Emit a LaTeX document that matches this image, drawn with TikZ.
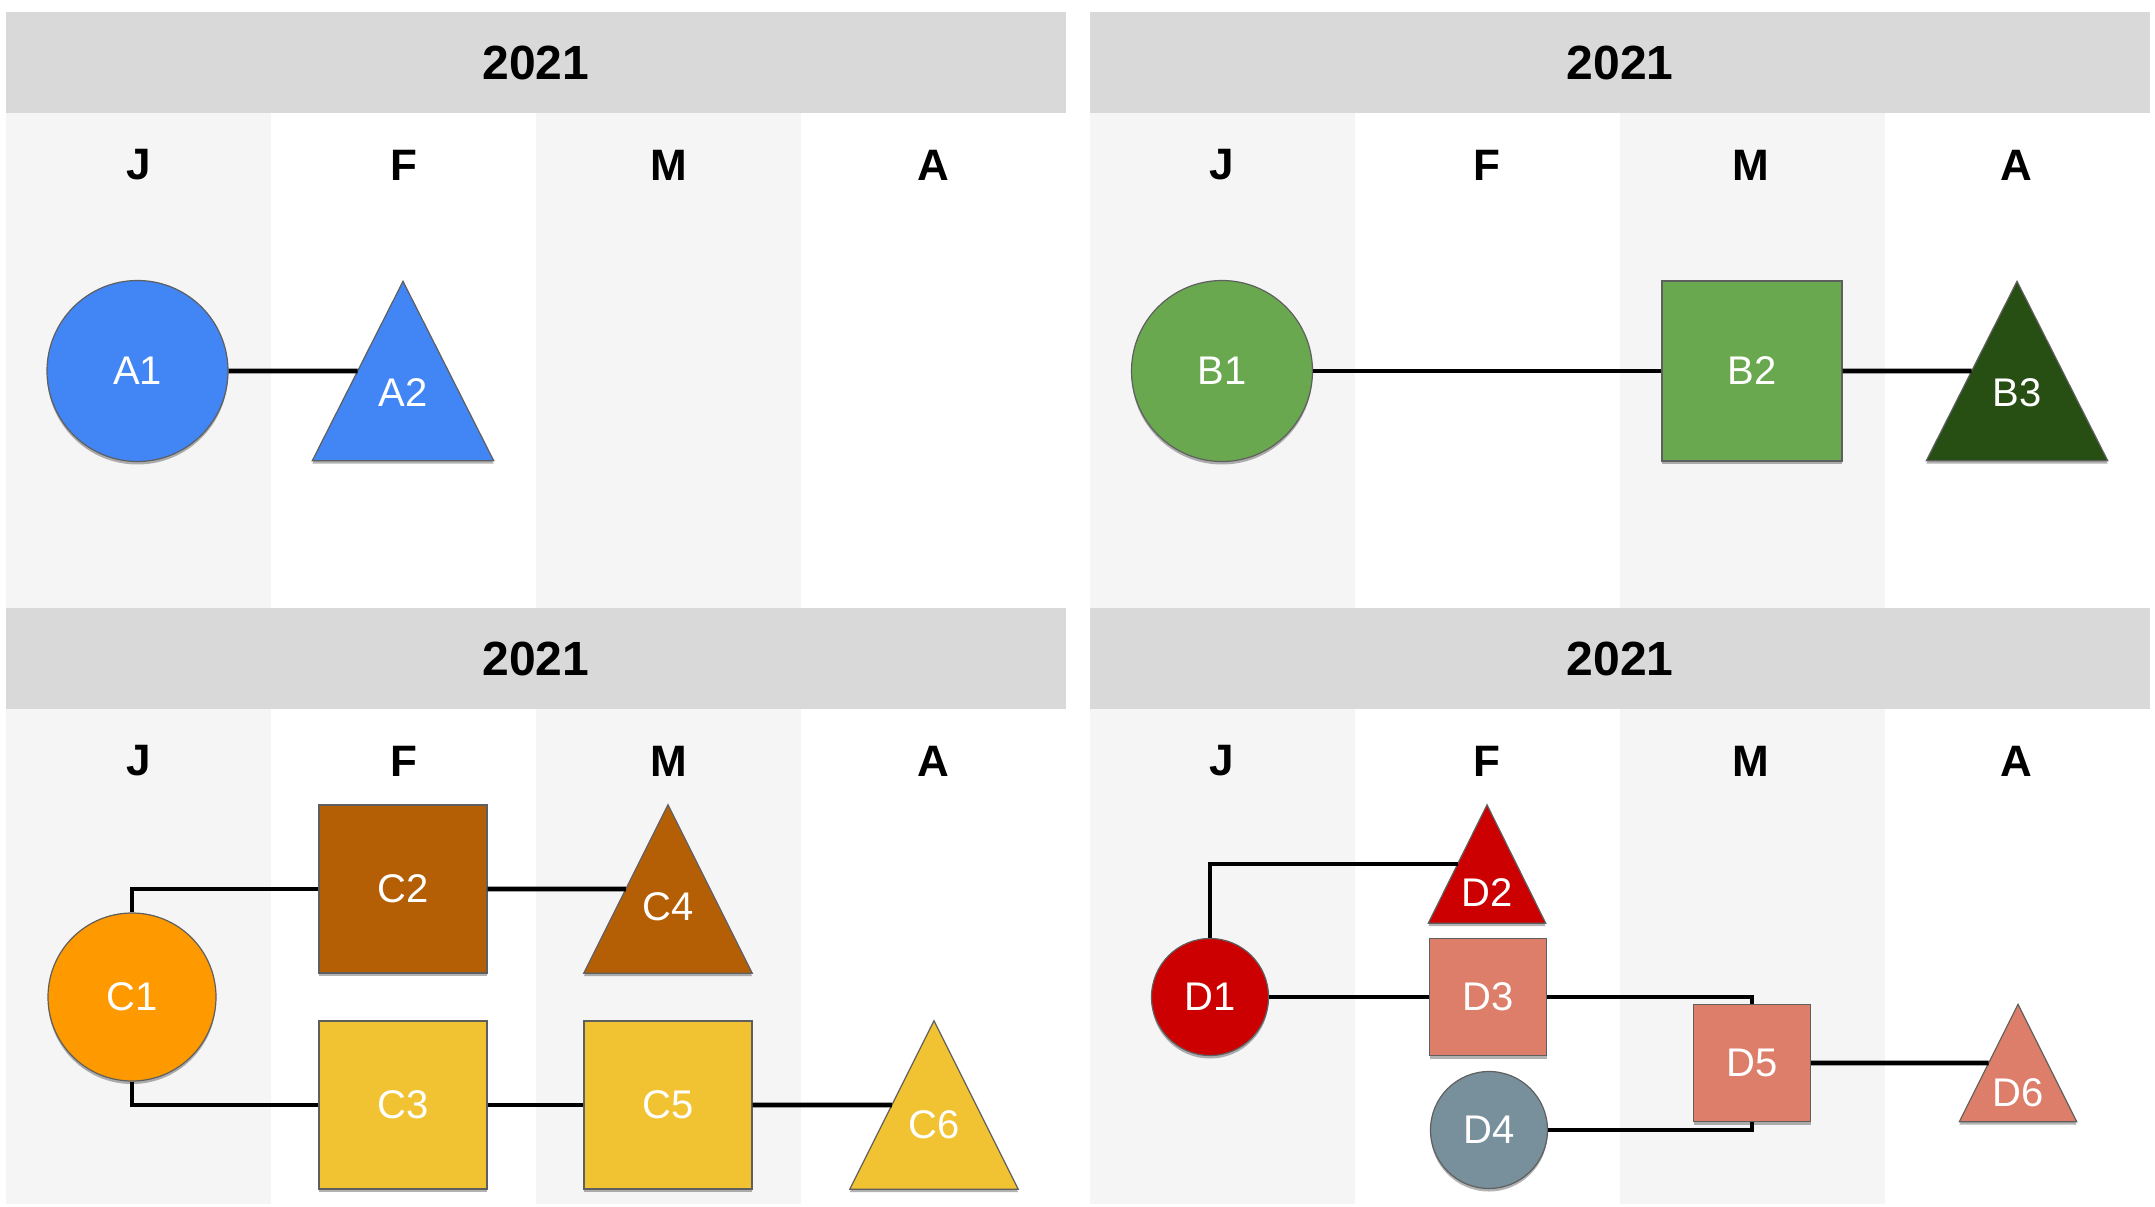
\documentclass[tikz,border=0pt]{standalone}
\usepackage{fontspec}
\setmainfont{Liberation Sans}
\usetikzlibrary{shadows,calc}
\definecolor{hdr}{HTML}{D9D9D9}
\definecolor{colg}{HTML}{F5F5F5}
\definecolor{edge}{HTML}{5F5F5F}
\definecolor{cblue}{HTML}{4285F4}
\definecolor{cgreen}{HTML}{6AA84F}
\definecolor{cdgreen}{HTML}{274E13}
\definecolor{corange}{HTML}{FF9900}
\definecolor{cbrown}{HTML}{B45F06}
\definecolor{cyellow}{HTML}{F1C232}
\definecolor{cred}{HTML}{CC0000}
\definecolor{csalmon}{HTML}{DD7E6B}
\definecolor{cbgrey}{HTML}{78909C}
\newcommand\trifill[2]{\path[fill=#2, draw=edge, line width=1.2pt, shd] (#1.south west) -- (#1.north) -- (#1.south east) -- cycle;}
\begin{document}
\begin{tikzpicture}[x=1pt,y=-1pt,
  shd/.style={drop shadow={shadow xshift=0pt, shadow yshift=-3pt, opacity=0.3, fill=black}},
  yearlbl/.style={font=\bfseries\fontsize{48}{56}\selectfont, text=black},
  mon/.style={font=\bfseries\fontsize{44}{52}\selectfont, text=black},
  lbl/.style={font=\fontsize{40}{48}\selectfont, text=white, inner sep=0pt},
  circ/.style={circle, draw=edge, line width=1.2pt, minimum size=#1, inner sep=0pt, shd, font=\fontsize{40}{48}\selectfont, text=white},
  sq/.style={rectangle, draw=edge, line width=1.2pt, minimum size=#1, inner sep=0pt, shd, font=\fontsize{40}{48}\selectfont, text=white},
  tribox/.style 2 args={rectangle, minimum width=#1, minimum height=#2, inner sep=0pt, draw=none},
  conn/.style={line width=4.6pt, black}
]
\useasboundingbox (0,0) rectangle (2155,1207);
% ---------- backgrounds ----------
\foreach \ox/\oy in {0/0, 0/596, 1084/0, 1084/596}{
  \fill[hdr] (6+\ox,12+\oy) rectangle (1066+\ox,113+\oy);
  \fill[colg] (6+\ox,113+\oy) rectangle (270.5+\ox,608+\oy);
  \fill[colg] (535.5+\ox,113+\oy) rectangle (800.5+\ox,608+\oy);
}
% ---------- headers ----------
\node[yearlbl] (y1) at (536,62.5) {2021};
\node[yearlbl] (y2) at (1620,62.5) {2021};
\node[yearlbl] (y3) at (536,658.5) {2021};
\node[yearlbl] (y4) at (1620,658.5) {2021};
\foreach \m/\x in {J/138.5, F/403.5, M/668.5, A/933.5}{
  \node[mon] (tl\m) at (\x,165) {\m};
  \node[mon] (bl\m) at (\x,761) {\m};
}
\foreach \m/\x in {J/1222, F/1486.5, M/1751, A/2016.5}{
  \node[mon] (tr\m) at (\x,165) {\m};
  \node[mon] (br\m) at (\x,761) {\m};
}
% ---------- panel A ----------
\node[circ=181, fill=cblue] (A1) at (137.5,371) {A1};
\node[tribox={181}{179}] (A2) at (403,371) {};
\trifill{A2}{cblue}
\node[lbl] (A2t) at ([yshift=-22pt]A2.center) {A2};
\coordinate (A2w) at ($(A2.north)!0.5!(A2.south west)$);
\draw[conn] (A1) -- (A2w);
% ---------- panel B ----------
\node[circ=181, fill=cgreen] (B1) at (1222,371) {B1};
\node[sq=180, fill=cgreen] (B2) at (1752,371) {B2};
\node[tribox={181}{179}] (B3) at (2017,371) {};
\trifill{B3}{cdgreen}
\node[lbl] (B3t) at ([yshift=-22pt]B3.center) {B3};
\coordinate (B3w) at ($(B3.north)!0.5!(B3.south west)$);
\draw[conn] (B1) -- (B2);
\draw[conn] (B2) -- (B3w);
% ---------- panel C ----------
\node[circ=168, fill=corange] (C1) at (132,997) {C1};
\node[sq=168, fill=cbrown] (C2) at (403,889) {C2};
\node[tribox={168}{168}] (C4) at (668,889) {};
\trifill{C4}{cbrown}
\node[lbl] (C4t) at ([yshift=-18pt]C4.center) {C4};
\coordinate (C4w) at ($(C4.north)!0.5!(C4.south west)$);
\node[sq=168, fill=cyellow] (C3) at (403,1105) {C3};
\node[sq=168, fill=cyellow] (C5) at (668,1105) {C5};
\node[tribox={168}{168}] (C6) at (934,1105) {};
\trifill{C6}{cyellow}
\node[lbl] (C6t) at ([yshift=-20pt]C6.center) {C6};
\coordinate (C6w) at ($(C6.north)!0.5!(C6.south west)$);
\draw[conn] (C1.north) |- (C2.west);
\draw[conn] (C2) -- (C4w);
\draw[conn] (C1.south) |- (C3.west);
\draw[conn] (C3) -- (C5);
\draw[conn] (C5) -- (C6w);
% ---------- panel D ----------
\node[circ=117, fill=cred] (D1) at (1210,997) {D1};
\node[tribox={117}{118}] (D2) at (1487,864) {};
\trifill{D2}{cred}
\node[lbl] (D2t) at ([yshift=-29pt]D2.center) {D2};
\coordinate (D2w) at ($(D2.north)!0.5!(D2.south west)$);
\node[sq=117, fill=csalmon] (D3) at (1488,997) {D3};
\node[circ=117, fill=cbgrey] (D4) at (1489,1130) {D4};
\node[sq=117, fill=csalmon] (D5) at (1752,1063) {D5};
\node[tribox={117}{117}] (D6) at (2018,1063) {};
\trifill{D6}{csalmon}
\node[lbl] (D6t) at ([yshift=-30pt]D6.center) {D6};
\coordinate (D6w) at ($(D6.north)!0.5!(D6.south west)$);
\draw[conn] (D1.north) |- (D2w);
\draw[conn] (D1) -- (D3);
\draw[conn] (D3.east) -| (D5.north);
\draw[conn] (D4.east) -| (D5.south);
\draw[conn] (D5) -- (D6w);
\end{tikzpicture}
\end{document}
